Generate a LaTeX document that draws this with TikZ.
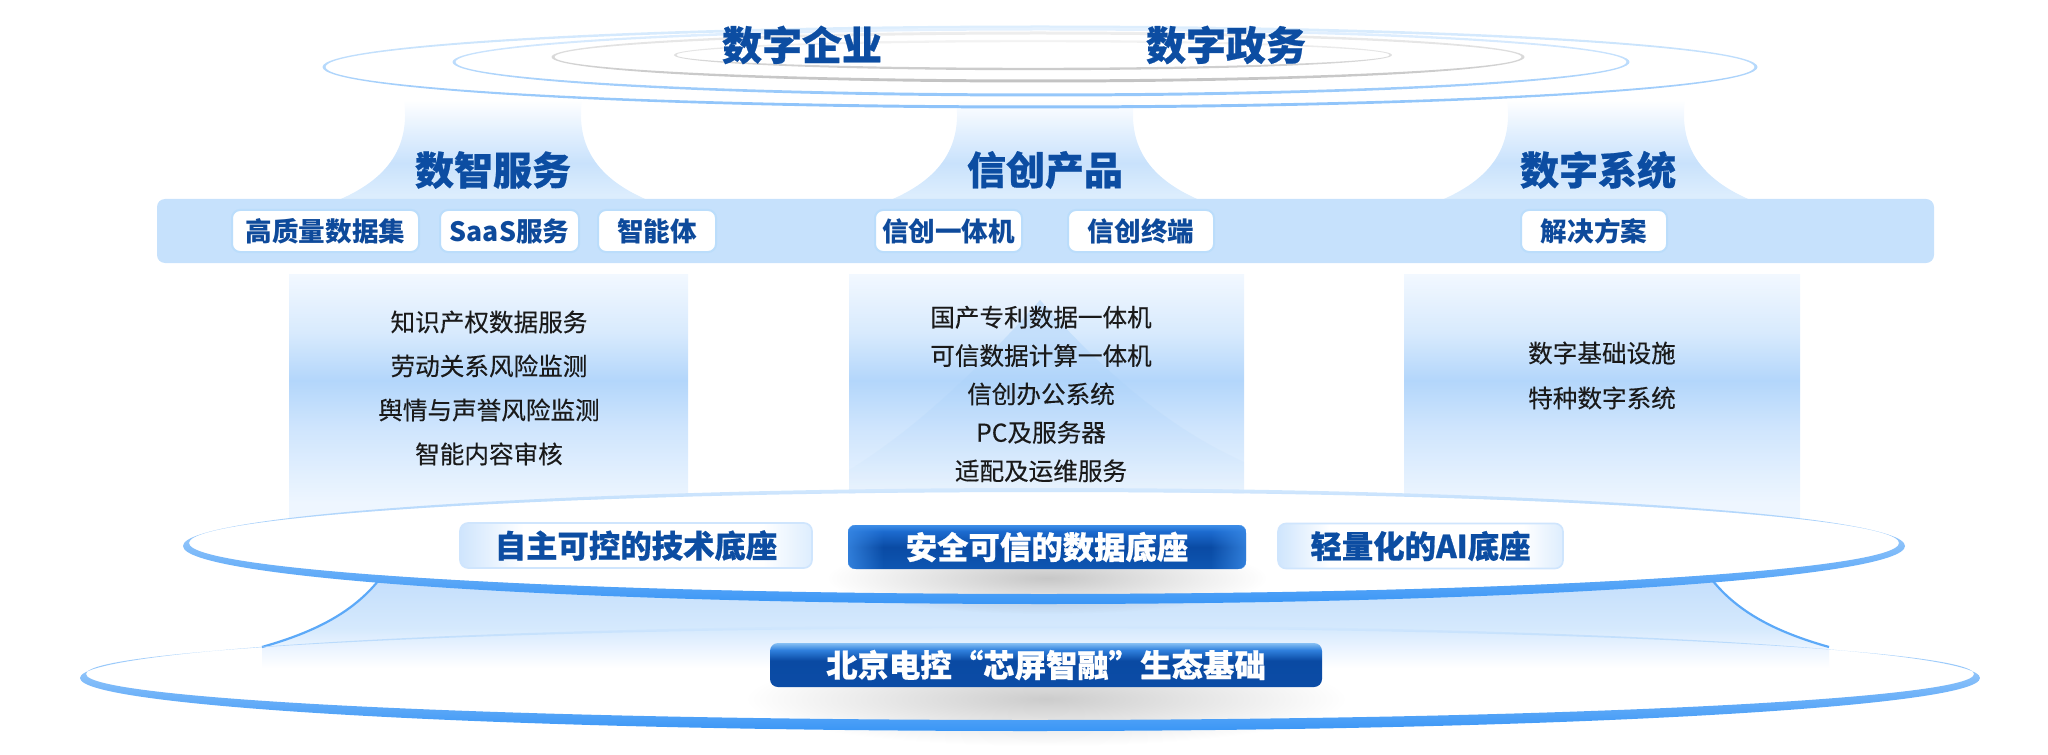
\documentclass[tikz,border=0pt]{standalone}
\usepackage{fontspec}
\setmainfont{Noto Sans CJK SC}
\newfontfamily\heavyfont{Noto Sans CJK SC}[BoldFeatures={FakeBold=0.6}]
\newfontfamily\listfont{Noto Sans CJK SC}[FakeBold=0.25]
\usetikzlibrary{fadings}

\tikzfading[name=blobfade, inner color=transparent!0, outer color=transparent!100]

\definecolor{titleblue}{HTML}{0C4DA2}
\definecolor{tagtext}{HTML}{0E4A9B}
\definecolor{listtext}{HTML}{1A1A1A}
\definecolor{bandblue}{HTML}{C6E1FC}
\definecolor{tagedge}{HTML}{BBDDFB}
\definecolor{eAtop}{HTML}{DDEEFD}
\definecolor{eAbot}{HTML}{8CC2FA}
\definecolor{eBtop}{HTML}{E6F2FE}
\definecolor{eBbot}{HTML}{93C6FA}
\definecolor{gAtop}{HTML}{EEEEEE}
\definecolor{gAbot}{HTML}{C2C2C2}
\definecolor{gBtop}{HTML}{F4F4F4}
\definecolor{gBbot}{HTML}{C9C9C9}
\definecolor{rimlight}{HTML}{D3E8FD}
\definecolor{rimdark}{HTML}{3A96F6}
\definecolor{curveblue}{HTML}{5CA9F8}
\definecolor{edgeblue}{HTML}{3A8AE6}
\definecolor{cs0}{HTML}{EEF6FF}
\definecolor{cs1}{HTML}{E3F0FE}
\definecolor{cs2}{HTML}{CFE5FD}
\definecolor{cs3}{HTML}{B3D6FB}
\definecolor{cs4}{HTML}{D8EAFD}
\definecolor{cs5}{HTML}{F2F8FF}
\definecolor{fs0}{HTML}{DCEDFD}
\definecolor{fs1}{HTML}{C9E2FC}
\definecolor{fs2}{HTML}{E3F0FE}
\definecolor{fu0}{HTML}{EDF5FF}
\definecolor{fu1}{HTML}{D5E9FD}
\definecolor{fu2}{HTML}{C0DCFB}
\definecolor{bt0}{HTML}{0B4CA6}
\definecolor{bt1}{HTML}{0A4AA3}
\definecolor{bt2}{HTML}{2F80DD}
\definecolor{bt3}{HTML}{86C0F4}
\definecolor{bm0}{HTML}{0E56B2}
\definecolor{bm1}{HTML}{0A4BA4}
\definecolor{bm2}{HTML}{1C6BCF}
\definecolor{bm3}{HTML}{3F8FE8}
\definecolor{wb0}{HTML}{CFE5FD}
\definecolor{wb1}{HTML}{DDEDFE}
\definecolor{peakblue}{HTML}{A9D1FA}

\pgfdeclareverticalshading{colshade}{100bp}{color(0bp)=(cs0); color(32bp)=(cs0); color(37bp)=(cs1); color(46bp)=(cs2); color(55bp)=(cs3); color(64bp)=(cs4); color(75bp)=(cs5); color(100bp)=(cs5)}
\pgfdeclareverticalshading{fanshade}{100bp}{color(0bp)=(fs0); color(30bp)=(fs0); color(45bp)=(fs1); color(60bp)=(fs2); color(75bp)=(white); color(100bp)=(white)}
\pgfdeclareverticalshading{funnelshade}{100bp}{color(0bp)=(white); color(25bp)=(white); color(34bp)=(fu0); color(45bp)=(fu1); color(75bp)=(fu2); color(100bp)=(fu2)}
\pgfdeclareverticalshading{bbot}{100bp}{color(0bp)=(bt0); color(25bp)=(bt0); color(55bp)=(bt1); color(67bp)=(bt2); color(75bp)=(bt3); color(100bp)=(bt3)}
\pgfdeclareverticalshading{bmid}{100bp}{color(0bp)=(bm0); color(25bp)=(bm0); color(50bp)=(bm1); color(68bp)=(bm2); color(75bp)=(bm3); color(100bp)=(bm3)}
\pgfdeclarehorizontalshading{wbtn}{100bp}{color(0bp)=(wb0); color(25bp)=(wb0); color(34bp)=(white); color(68bp)=(white); color(75bp)=(wb1); color(100bp)=(wb1)}

\tikzset{
  toptitle/.style={text=titleblue, inner sep=0pt, font=\heavyfont\bfseries\fontsize{20}{24}\selectfont},
  head/.style={text=titleblue, inner sep=0pt, font=\heavyfont\bfseries\fontsize{19.5}{24}\selectfont},
  bandbox/.style={fill=bandblue, rounded corners=4pt, inner sep=0pt, minimum width=888.5pt, minimum height=32pt},
  tag/.style={draw=tagedge, line width=1pt, fill=white, rounded corners=4pt, minimum height=21pt, inner sep=0pt, text=tagtext, font=\bfseries\fontsize{13.3}{16}\selectfont},
  colbox/.style={shading=colshade, inner sep=0pt, minimum height=133pt},
  listtxt/.style={align=center, text=listtext, inner sep=0pt},
  wbtnbox/.style={shading=wbtn, draw=wb0, line width=0.8pt, rounded corners=4pt, inner sep=0pt, minimum height=22.5pt, text=titleblue, font=\heavyfont\bfseries\fontsize{15.7}{18}\selectfont},
  bbtnbox/.style={shading=bmid, rounded corners=4pt, inner sep=0pt, minimum height=22pt},
  btntxt/.style={text=white, inner sep=0pt, font=\heavyfont\bfseries\fontsize{15.7}{18}\selectfont},
  curve/.style={draw=curveblue, line width=1.1pt},
}

\begin{document}
\begin{tikzpicture}[x=0.5pt,y=-0.5pt]
\useasboundingbox (0,0) rectangle (2048,754);

% ---- fans under the top rings
\foreach \c in {493,1045,1596}{
  \shade[shading=fanshade] ({\c-89},100) .. controls ({\c-81},160) and ({\c-121},188) .. ({\c-167},205)
     -- ({\c+167},205) .. controls ({\c+121},188) and ({\c+81},160) .. ({\c+89},100) -- cycle;
}

% ---- top rings
\shade[even odd rule, top color=eAtop, bottom color=eAbot]
  (1040,67) ellipse [x radius=358.75pt, y radius=20.75pt]
  (1040,67) ellipse [x radius=357.25pt, y radius=19.25pt];
\shade[even odd rule, top color=eBtop, bottom color=eBbot]
  (1041,62) ellipse [x radius=294.25pt, y radius=17.25pt]
  (1041,62) ellipse [x radius=292.75pt, y radius=15.75pt];
\shade[even odd rule, top color=gAtop, bottom color=gAbot]
  (1038,57) ellipse [x radius=243.25pt, y radius=12.75pt]
  (1038,57) ellipse [x radius=241.75pt, y radius=11.25pt];
\shade[even odd rule, top color=gBtop, bottom color=gBbot]
  (1033,55) ellipse [x radius=179.6pt, y radius=7.6pt]
  (1033,55) ellipse [x radius=178.4pt, y radius=6.4pt];

\node[toptitle] (t1) at (802,45) {数字企业};
\node[toptitle] (t2) at (1226,45) {数字政务};

\node[head] (h1) at (493,170) {数智服务};
\node[head] (h2) at (1045,170) {信创产品};
\node[head] (h3) at (1598,170) {数字系统};

% ---- band with tags
\node[bandbox] (band) at (1045.5,231) {};
\node[tag, minimum width=93.5pt] (tg1) at (325.5,231) {高质量数据集};
\node[tag, minimum width=69.5pt] (tg2) at (509.5,231) {SaaS服务};
\node[tag, minimum width=59pt]   (tg3) at (657,231) {智能体};
\node[tag, minimum width=73.5pt] (tg4) at (948.5,231) {信创一体机};
\node[tag, minimum width=73pt]   (tg5) at (1141,231) {信创终端};
\node[tag, minimum width=73pt]   (tg6) at (1594,231) {解决方案};

% ---- columns
\node[colbox, minimum width=199.5pt] (colL) at (488.5,407) {};
\node[colbox, minimum width=197.5pt] (colM) at (1046.5,407) {};
\node[colbox, minimum width=198pt]   (colR) at (1602,407) {};
\begin{scope}
  \clip (849,274) rectangle (1244,491);
  \fill[peakblue, opacity=0.5, path fading=south] (1040,300) .. controls (1000,345) and (930,420) .. (849,470)
     -- (849,491) -- (1244,491) -- (1244,462) .. controls (1150,420) and (1080,345) .. (1040,300) -- cycle;
\end{scope}

\node[listtxt, font=\listfont\fontsize{12.3}{22}\selectfont] (lL) at (489,388)
  {知识产权数据服务\\劳动关系风险监测\\舆情与声誉风险监测\\智能内容审核};
\node[listtxt, font=\listfont\fontsize{12.3}{19.2}\selectfont] (lM) at (1041,394)
  {国产专利数据一体机\\可信数据计算一体机\\信创办公系统\\PC及服务器\\适配及运维服务};
\node[listtxt, font=\listfont\fontsize{12.3}{22.5}\selectfont] (lR) at (1602,375.5)
  {数字基础设施\\特种数字系统};

% ---- bottom ellipse and funnel
\fill[white] (1030,674) ellipse [x radius=472pt, y radius=23pt];
\coordinate (fl1) at (382,576);
\coordinate (fl2) at (262,647);
\coordinate (fr1) at (1709,576);
\coordinate (fr2) at (1829,647);
\shade[shading=funnelshade] (382,568) -- (fl1) .. controls (355,612) and (315,632) .. (fl2) -- (262,668)
   -- (1829,668) -- (fr2) .. controls (1776,632) and (1736,612) .. (fr1) -- (1709,568) -- cycle;
\draw[curve] (fl1) .. controls (355,612) and (315,632) .. (fl2);
\draw[curve] (fr1) .. controls (1736,612) and (1776,632) .. (fr2);

% shadow under bottom button
\fill[black, opacity=0.2, path fading=blobfade] (746,652) rectangle (1346,746);

\shade[even odd rule, top color=rimlight, bottom color=rimdark]
  (1030,678) ellipse [x radius=475pt, y radius=26.5pt]
  (1030,674) ellipse [x radius=472pt, y radius=23pt];

% ---- middle platform ellipse
\fill[white] (1044,543) ellipse [x radius=427.5pt, y radius=25.5pt];
\fill[black, opacity=0.22, path fading=blobfade] (827,542) rectangle (1267,614);
\shade[even odd rule, top color=rimlight, bottom color=rimdark]
  (1044,546) ellipse [x radius=430.5pt, y radius=29pt]
  (1044,543) ellipse [x radius=427.5pt, y radius=25.5pt];

% ---- platform buttons
\node[wbtnbox, minimum width=176pt] (btnA) at (636,545.5) {自主可控的技术底座};
\node[bbtnbox, minimum width=199pt] (btnB) at (1047,547) {};
\begin{scope}
  \clip[rounded corners=4pt] (btnB.south west) rectangle (btnB.north east);
  \fill[edgeblue, opacity=0.8, path fading=east] (btnB.south west) rectangle ([xshift=18pt]btnB.north west);
  \fill[edgeblue, opacity=0.8, path fading=west] ([xshift=-18pt]btnB.south east) rectangle (btnB.north east);
\end{scope}
\node[btntxt] (btnBt) at (btnB) {安全可信的数据底座};
\node[wbtnbox, minimum width=142.5pt] (btnC) at (1420.5,546) {轻量化的AI底座};

% ---- bottom button
\node[shading=bbot, rounded corners=4pt, inner sep=0pt, minimum width=276pt, minimum height=22pt] (btnD) at (1046,665) {};
\node[btntxt] (btnDt) at (btnD) {北京电控“芯屏智融”生态基础};

\end{tikzpicture}
\end{document}
